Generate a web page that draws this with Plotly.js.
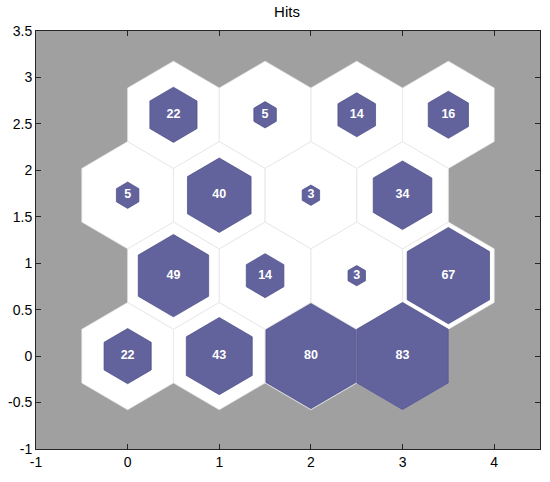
<!DOCTYPE html>
<html>
<head>
<meta charset="utf-8">
<script src="https://cdn.plot.ly/plotly-3.0.1.min.js"></script>
<style>html,body{margin:0;padding:0;background:#fff;}#chart{width:550px;height:482px;}</style>
</head>
<body>
<div id="chart"></div>
<script>
// SOM grid 4x4 hexagonal topology, hits per neuron (row by row, bottom to top)
const gridCols = 4;
const gridRows = 4;
const hits = [22, 43, 80, 83,
              49, 14, 3, 67,
              5, 40, 3, 34,
              22, 5, 14, 16];
const xTickVals = [-1, 0, 1, 2, 3, 4];
const xTickText = ['-1', '0', '1', '2', '3', '4'];
const yTickVals = [-1, -0.5, 0, 0.5, 1, 1.5, 2, 2.5, 3, 3.5];
const yTickText = ['-1', '-0.5', '0', '0.5', '1', '1.5', '2', '2.5', '3', '3.5'];

const maxHits = Math.max(...hits);
const R = 1 / Math.sqrt(3);
function centers() {
  const c = [];
  for (let r = 0; r < gridRows; r++) {
    for (let k = 0; k < gridCols; k++) {
      c.push([k + (r % 2 ? 0.5 : 0), r * Math.sqrt(3) / 2]);
    }
  }
  return c;
}
const ctr = centers();
function hexPath(cx, cy, rad, xs, ys) {
  for (let i = 0; i <= 6; i++) {
    const a = Math.PI / 2 + i * Math.PI / 3;
    xs.push(cx + rad * Math.cos(a));
    ys.push(cy + rad * Math.sin(a));
  }
  xs.push(null); ys.push(null);
}
const wx = [], wy = [], px = [], py = [];
ctr.forEach((c, i) => {
  hexPath(c[0], c[1], R, wx, wy);
  const s = Math.sqrt(hits[i] / maxHits);
  hexPath(c[0], c[1], R * s, px, py);
});

const traces = [
  {x: wx, y: wy, type: 'scatter', mode: 'lines', fill: 'toself', fillcolor: '#ffffff',
   line: {color: '#e6e6e6', width: 0.7}, hoverinfo: 'skip', showlegend: false},
  {x: px, y: py, type: 'scatter', mode: 'lines', fill: 'toself', fillcolor: '#62629c',
   line: {color: '#4c4c86', width: 0.7}, hoverinfo: 'skip', showlegend: false},
  {x: ctr.map(c => c[0]), y: ctr.map(c => c[1]), type: 'scatter', mode: 'text',
   text: hits.map(String), textposition: 'middle center',
   textfont: {family: 'Liberation Sans, Arial, sans-serif', size: 12.5, color: '#ffffff', weight: 'bold'},
   hoverinfo: 'skip', showlegend: false}
];

const axisCommon = {
  showgrid: false, zeroline: false, ticks: 'inside', ticklen: 5, tickcolor: '#262626',
  showline: true, linecolor: '#262626', linewidth: 1, mirror: 'ticks',
  tickfont: {family: 'Liberation Sans, Arial, sans-serif', size: 14, color: '#000'}
};
const layout = {
  width: 550, height: 482,
  margin: {l: 36, r: 10, t: 31, b: 33},
  paper_bgcolor: '#ffffff', plot_bgcolor: '#a0a0a0',
  title: {text: 'Hits', x: 0.498, xref: 'paper', xanchor: 'center', y: 1 - 12 / 482, yref: 'container', yanchor: 'middle',
          font: {family: 'Liberation Sans, Arial, sans-serif', size: 15, color: '#000'}},
  xaxis: Object.assign({}, axisCommon, {range: [-1, 4.5], tickvals: xTickVals, ticktext: xTickText}),
  yaxis: Object.assign({}, axisCommon, {range: [-1, 3.5], tickvals: yTickVals, ticktext: yTickText}),
  showlegend: false
};
Plotly.newPlot('chart', traces, layout, {displayModeBar: false, staticPlot: true});
</script>
</body>
</html>
